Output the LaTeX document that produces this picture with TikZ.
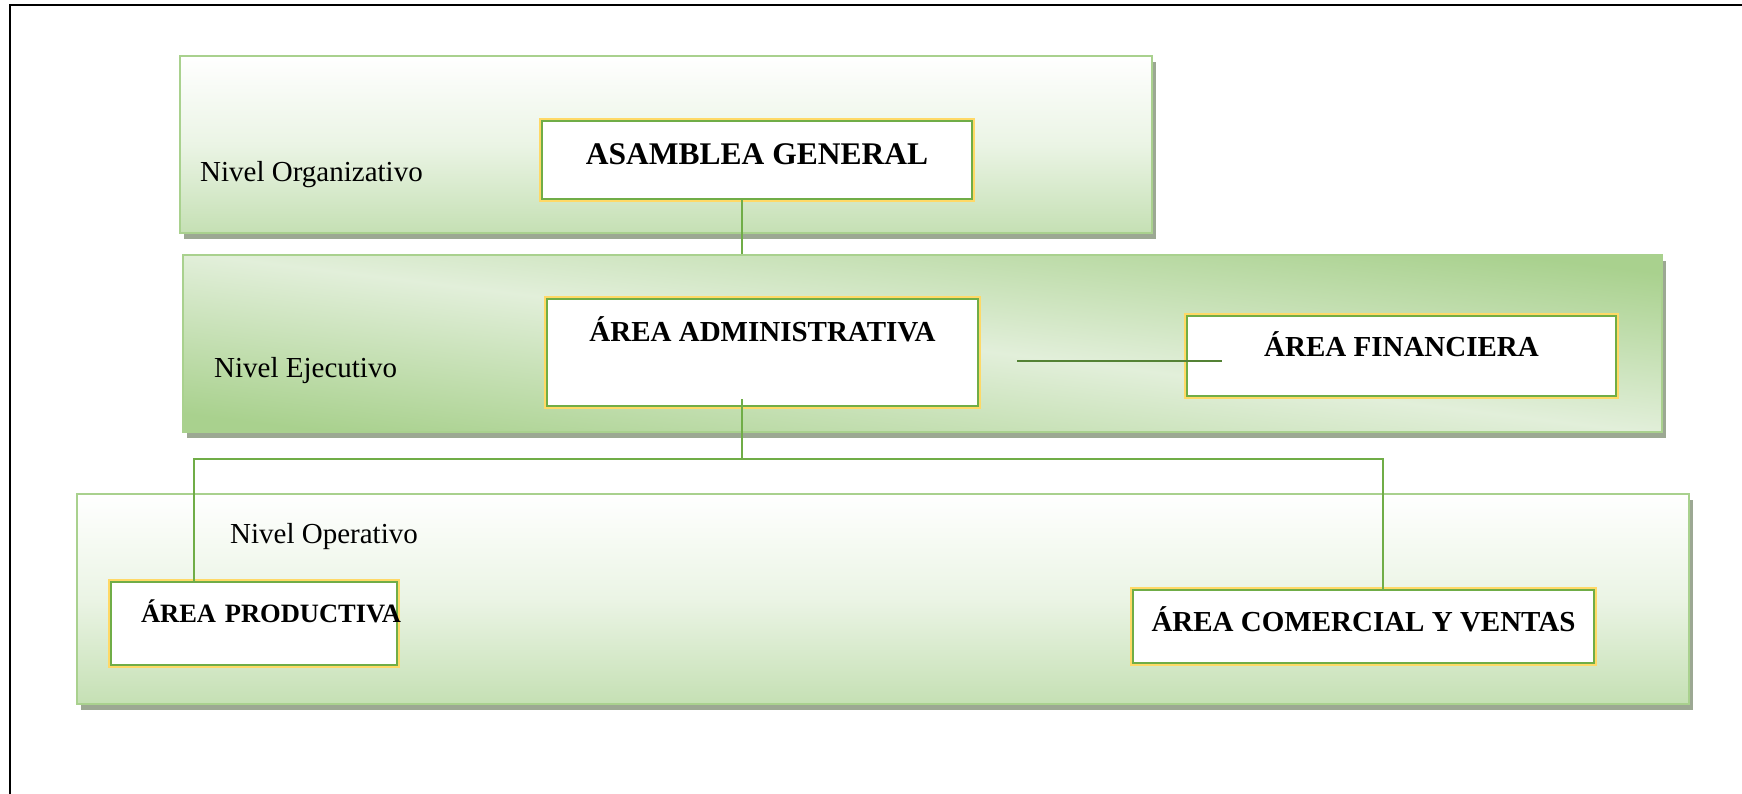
\documentclass[tikz,border=0pt]{standalone}
\usepackage{fontspec}
\setmainfont{Liberation Serif}
\usetikzlibrary{calc,shadows}

\definecolor{bandverde}{HTML}{C5E0B4}
\definecolor{bandoscuro}{HTML}{A9D18E}
\definecolor{bandclaro}{HTML}{E2EFDA}
\definecolor{bordeverde}{HTML}{A9D18E}
\definecolor{sombra}{HTML}{9CA893}
\definecolor{cajaverde}{HTML}{70AD47}
\definecolor{cajaamarillo}{HTML}{FFD966}
\definecolor{lineaverde}{HTML}{70AD47}
\definecolor{lineaoscura}{HTML}{548235}

\tikzset{
	nivel/.style={draw=bordeverde, line width=2.5pt, inner sep=0pt,
		drop shadow={shadow xshift=4pt, shadow yshift=-6pt, fill=sombra, opacity=1}},
	nivelclaro/.style={nivel, top color=white, bottom color=bandverde, middle color=bandverde!35!white},
	niveloscuro/.style={nivel, top color=bandoscuro, bottom color=bandoscuro, middle color=bandclaro, shading angle=-7},
	caja/.style={draw=cajaverde, line width=2pt, fill=white, inner sep=0pt,
		preaction={draw=cajaamarillo, line width=6pt},
		font=\fontsize{29}{34}\selectfont\bfseries, text height=20pt},
	etiqueta/.style={anchor=base west, inner sep=0pt, font=\fontsize{29}{34}\selectfont},
	conector/.style={draw=lineaverde, line width=2pt}
}

\begin{document}
\begin{tikzpicture}[x=1pt, y=-1pt]
			%%%%% MARCO %%%%%
			\useasboundingbox (0,0) rectangle (1742,794);
			\draw[line width=2.5pt] (10,794) -- (10,5) -- (1742,5);
			
			%%%%% NIVELES %%%%%
			\node[nivelclaro, minimum width=972pt, minimum height=177pt] (organizativo) at (666,144.5) {};
			\node[niveloscuro, minimum width=1479pt, minimum height=177pt] (ejecutivo) at (922.5,343.5) {};
			\node[nivelclaro, minimum width=1612pt, minimum height=210pt] (operativo) at (883,599) {};
			
			\node[etiqueta] (txtorg) at (200,182) {Nivel Organizativo};
			\node[etiqueta] (txteje) at (214,377) {Nivel Ejecutivo};
			\node[etiqueta] (txtope) at (230,543) {Nivel Operativo};
			
			%%%%% AREAS %%%%%
			\node[caja, minimum width=430pt, minimum height=78pt, text depth=11pt, font=\fontsize{31.5}{38}\selectfont\bfseries] (asamblea) at (757,160) {ASAMBLEA GENERAL};
			\node[caja, minimum width=431pt, minimum height=107pt, text depth=42pt] (administrativa) at (762.5,352.5) {ÁREA ADMINISTRATIVA};
			\node[caja, minimum width=429pt, minimum height=80pt, text depth=20pt] (financiera) at (1401.5,356) {ÁREA FINANCIERA};
			\node[caja, minimum width=286pt, minimum height=83pt, text depth=22pt, text width=226pt, align=left, font=\fontsize{26.5}{32}\selectfont\bfseries] (productiva) at (254,623.5) {\mbox{ÁREA PRODUCTIVA}};
			\node[caja, minimum width=461pt, minimum height=73pt, text depth=10pt] (comercial) at (1363.5,626.5) {ÁREA COMERCIAL Y VENTAS};
			
			%%%%% CONECTORES %%%%%
			\coordinate (tronco) at (742,459);
			\coordinate (ramaizq) at (194,459);
			\coordinate (ramader) at (1383,459);
			\coordinate (finini) at (1017,361);
			
			\draw[conector] (asamblea.south -| tronco) -- (ejecutivo.north -| tronco);
			\draw[conector] ($(tronco |- administrativa.south)+(0,-8)$) -- (tronco);
			\draw[conector] (productiva.north -| ramaizq) -- (ramaizq) -- (ramader) -- (comercial.north -| ramader);
			\draw[conector, draw=lineaoscura] (finini) -- ($(financiera.west |- finini)+(36,0)$);
		\end{tikzpicture}
\end{document}
